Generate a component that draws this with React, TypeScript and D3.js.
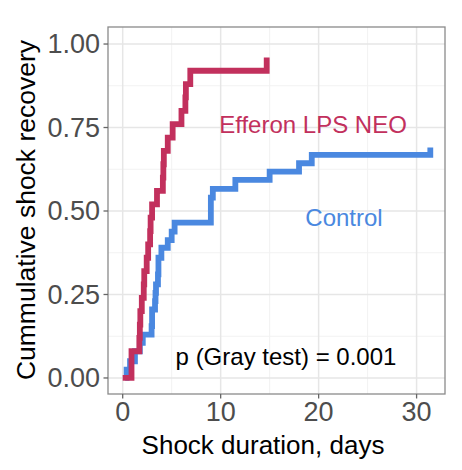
import React from "react";
import * as d3 from "d3";

const efferonTimes = [0, 0.9, 1.7, 1.75, 1.8, 1.95, 2.15, 2.2, 2.45, 2.6, 2.8, 2.85, 3.0, 3.5, 4.1, 4.15, 4.2, 4.6, 5.1, 6.0, 6.4, 6.45, 6.9, 14.7];
const efferonValues = [0, 0.08, 0.12, 0.16, 0.2, 0.24, 0.28, 0.32, 0.36, 0.4, 0.44, 0.48, 0.52, 0.56, 0.6, 0.64, 0.68, 0.72, 0.76, 0.8, 0.84, 0.88, 0.92, 0.96];

const controlTimes = [0.25, 0.4, 0.75, 1.25, 1.75, 2.05, 2.95, 3.0, 3.3, 3.35, 3.4, 3.6, 3.65, 3.95, 4.3, 4.6, 5.0, 5.3, 9.0, 9.2, 11.5, 15.0, 18.0, 19.3, 31.4];
const controlValues = [0, 0.025, 0.05, 0.08, 0.105, 0.13, 0.155, 0.205, 0.23, 0.255, 0.28, 0.31, 0.36, 0.39, 0.39, 0.413, 0.438, 0.465, 0.54, 0.566, 0.593, 0.618, 0.643, 0.668, 0.69];

const xTicks = [0, 10, 20, 30];
const xMinor = [5, 15, 25];
const yTicks = [0, 0.25, 0.5, 0.75, 1];
const yMinor = [0.125, 0.375, 0.625, 0.875];

const RED = "#c2305d";
const BLUE = "#4a88e0";

export default function App() {
  const W = 462, H = 470;
  const x = d3.scaleLinear().domain([-1.5, 32.9]).range([108, 445]);
  const y = d3.scaleLinear().domain([-0.048, 1.051]).range([394, 27]);
  const line = d3
    .line<[number, number]>()
    .x((d) => x(d[0]))
    .y((d) => y(d[1]))
    .curve(d3.curveStepAfter);
  const redPts: [number, number][] = efferonTimes.map((t, i) => [t, efferonValues[i]]);
  const bluePts: [number, number][] = controlTimes.map((t, i) => [t, controlValues[i]]);
  const font = "'Liberation Sans', Arial, sans-serif";
  const [x0, x1] = x.range();
  const [y0, y1] = y.range();
  return (
    <svg width={W} height={H} style={{ position: "absolute", left: 0, top: 0, background: "#fff" }} fontFamily={font}>
      <rect x={x0} y={y1} width={x1 - x0} height={y0 - y1} fill="#fff" />
      {yMinor.map((v) => (
        <line key={"ym" + v} x1={x0} x2={x1} y1={y(v)} y2={y(v)} stroke="#f2f2f2" strokeWidth={1} />
      ))}
      {xMinor.map((v) => (
        <line key={"xm" + v} x1={x(v)} x2={x(v)} y1={y0} y2={y1} stroke="#f2f2f2" strokeWidth={1} />
      ))}
      {yTicks.map((v) => (
        <line key={"yg" + v} x1={x0} x2={x1} y1={y(v)} y2={y(v)} stroke="#e6e6e6" strokeWidth={1.5} />
      ))}
      {xTicks.map((v) => (
        <line key={"xg" + v} x1={x(v)} x2={x(v)} y1={y0} y2={y1} stroke="#e6e6e6" strokeWidth={1.5} />
      ))}
      <path d={line(bluePts) || ""} fill="none" stroke={BLUE} strokeWidth={5.8} strokeLinejoin="miter" strokeLinecap="butt" />
      <path d={line(redPts) || ""} fill="none" stroke={RED} strokeWidth={5.8} strokeLinejoin="miter" strokeLinecap="butt" />
      <rect x={x0} y={y1} width={x1 - x0} height={y0 - y1} fill="none" stroke="#8a8a8a" strokeWidth={1.3} />
      {yTicks.map((v) => (
        <g key={"yt" + v}>
          <line x1={x0 - 4.5} x2={x0} y1={y(v)} y2={y(v)} stroke="#666" strokeWidth={1.3} />
          <text x={x0 - 8} y={y(v)} dy="0.35em" textAnchor="end" fontSize={27} fill="#4d4d4d">
            {v.toFixed(2)}
          </text>
        </g>
      ))}
      {xTicks.map((v) => (
        <g key={"xt" + v}>
          <line x1={x(v)} x2={x(v)} y1={y0} y2={y0 + 4.5} stroke="#666" strokeWidth={1.3} />
          <text x={x(v)} y={421} textAnchor="middle" fontSize={27} fill="#4d4d4d">
            {v}
          </text>
        </g>
      ))}
      <text x={263} y={454} textAnchor="middle" fontSize={26} fill="#000">
        Shock duration, days
      </text>
      <text transform="translate(35,210) rotate(-90)" textAnchor="middle" fontSize={26.5} fill="#000">
        Cummulative shock recovery
      </text>
      <text x={313} y={133} textAnchor="middle" fontSize={24} fill={RED}>
        Efferon LPS NEO
      </text>
      <text x={344} y={226} textAnchor="middle" fontSize={24} fill={BLUE}>
        Control
      </text>
      <text x={286} y={365} textAnchor="middle" fontSize={24} fill="#000">
        p (Gray test) = 0.001
      </text>
    </svg>
  );
}
